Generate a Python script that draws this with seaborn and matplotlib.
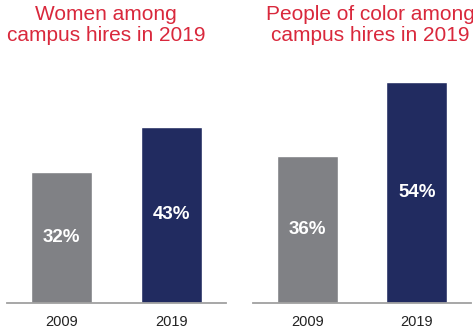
import matplotlib
matplotlib.use("Agg")
import matplotlib.pyplot as plt
import seaborn as sns
import pandas as pd

years = ["2009", "2019"]
women = [32, 43]
poc = [36, 54]
titles = ["Women among\ncampus hires in 2019", "People of color among\ncampus hires in 2019"]

GRAY = "#808185"
NAVY = "#212B60"
RED = "#D9283C"

sns.set_theme(style="white")
plt.rcParams["font.family"] = ["Liberation Sans", "DejaVu Sans"]

W, H = 473, 329
fig = plt.figure(figsize=(W / 100, H / 100), dpi=100)

px = 4.08  # pixels per unit
base = 302.5
top = 60
ymax = (base - top) / px

axes_px = [(7, 226), (253, 471)]
title_cx = [106, 370]

for i, (vals, ttl) in enumerate(zip([women, poc], titles)):
    x0, x1 = axes_px[i]
    ax = fig.add_axes([x0 / W, (H - base) / H, (x1 - x0) / W, (base - top) / H])
    df = pd.DataFrame({"year": years, "value": vals})
    sns.barplot(data=df, x="year", y="value", hue="year", palette=[GRAY, NAVY],
                width=0.555, legend=False, ax=ax, saturation=1)
    ax.set_xlim(-0.495, 1.495)
    ax.set_ylim(0, ymax)
    ax.set_xlabel("")
    ax.set_ylabel("")
    ax.set_yticks([])
    for s in ["left", "right", "top"]:
        ax.spines[s].set_visible(False)
    ax.spines["bottom"].set_color("#A0A0A0")
    ax.spines["bottom"].set_linewidth(1.3)
    ax.tick_params(axis="x", length=0, pad=9, labelsize=10.5, labelcolor="#222222")
    for j, v in enumerate(vals):
        ax.text(j, v / 2, f"{v}%", ha="center", va="center", color="white",
                fontsize=13.5, fontweight="bold")
    fig.text(title_cx[i] / W, 1 - 5 / H, ttl, ha="center", va="top", color=RED,
             fontsize=15, linespacing=1.15)

fig.savefig("out.png", dpi=100)
